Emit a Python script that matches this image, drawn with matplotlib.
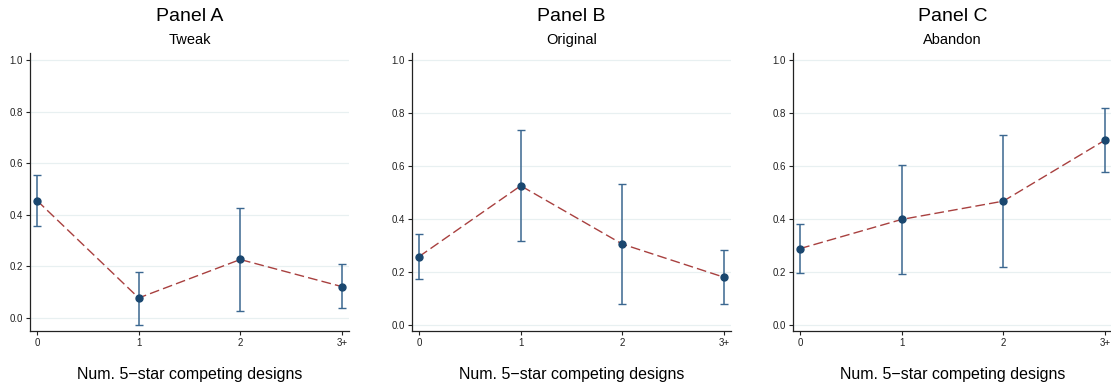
import numpy as np
import matplotlib
matplotlib.use("Agg")
import matplotlib.pyplot as plt

plt.rcParams['font.family'] = ['Liberation Sans', 'DejaVu Sans']

categories = ["0", "1", "2", "3+"]
panels = ["Panel A", "Panel B", "Panel C"]
subtitles = ["Tweak", "Original", "Abandon"]

tweak_mean = [0.455, 0.078, 0.227, 0.122]
tweak_lo = [0.355, -0.025, 0.027, 0.038]
tweak_hi = [0.555, 0.178, 0.428, 0.208]

orig_mean = [0.258, 0.525, 0.305, 0.180]
orig_lo = [0.172, 0.315, 0.080, 0.078]
orig_hi = [0.343, 0.735, 0.533, 0.282]

aband_mean = [0.288, 0.398, 0.467, 0.697]
aband_lo = [0.195, 0.193, 0.217, 0.578]
aband_hi = [0.382, 0.603, 0.715, 0.818]

series = [(tweak_mean, tweak_lo, tweak_hi),
          (orig_mean, orig_lo, orig_hi),
          (aband_mean, aband_lo, aband_hi)]
ylims = [(-0.05, 1.027), (-0.023, 1.026), (-0.023, 1.026)]
lefts = [30, 412, 793]

fig = plt.figure(figsize=(11.11, 3.89), dpi=100)
x = np.arange(len(categories))

for i in range(3):
    ax = fig.add_axes([lefts[i] / 1111, 1 - 331 / 389, 319 / 1111, 278 / 389])
    mean, lo, hi = [np.array(s) for s in series[i]]
    ax.set_xlim(-0.07, 3.07)
    ax.set_ylim(*ylims[i])
    ax.set_yticks([0, 0.2, 0.4, 0.6, 0.8, 1.0])
    ax.set_yticklabels(["0.0", "0.2", "0.4", "0.6", "0.8", "1.0"])
    ax.set_xticks(x)
    ax.set_xticklabels(categories)
    ax.grid(axis='y', color='#e8f0f1', linewidth=0.9)
    ax.set_axisbelow(True)
    ax.errorbar(x, mean, yerr=[mean - lo, hi - mean], fmt='none',
                ecolor='#3b6790', elinewidth=1.1, capsize=3, capthick=1.0, zorder=2)
    ax.plot(x, mean, linestyle=(0, (7, 3)), color='#a8403f', linewidth=1.0, zorder=3)
    ax.plot(x, mean, 'o', color='#1a476f', markersize=5, zorder=4)
    for s in ['top', 'right']:
        ax.spines[s].set_visible(False)
    for s in ['left', 'bottom']:
        ax.spines[s].set_color('#222222')
        ax.spines[s].set_linewidth(0.9)
    ax.tick_params(axis='both', labelsize=7, length=3, width=0.8, colors='#222222', pad=2)
    ax.set_xlabel("Num. 5\u2212star competing designs", fontsize=11.5, labelpad=14)
    ax.text(0.5, 1.13, panels[i], transform=ax.transAxes, ha='center', va='center', fontsize=14)
    ax.text(0.5, 1.047, subtitles[i], transform=ax.transAxes, ha='center', va='center', fontsize=10.5)

fig.savefig("out.png", dpi=100, facecolor='white')
